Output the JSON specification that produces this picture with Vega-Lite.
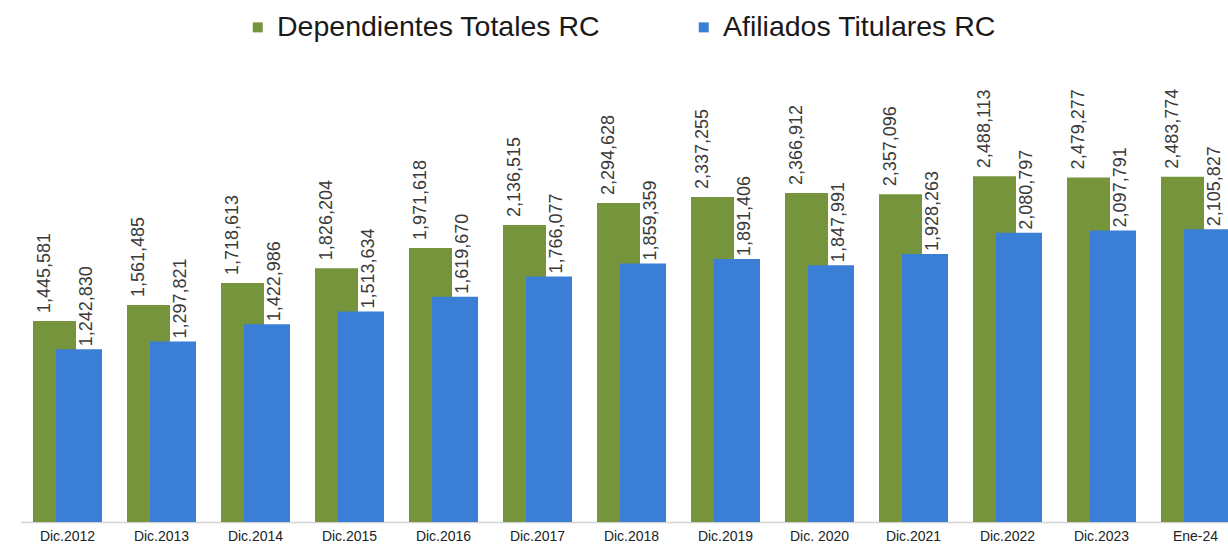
{
  "$schema": "https://vega.github.io/schema/vega-lite/v6.json",
  "autosize": "none",
  "width": 1222,
  "height": 417,
  "padding": {"left": 20.5, "top": 105, "right": 0, "bottom": 27},
  "background": "white",
  "config": {"view": {"stroke": null}, "font": "Liberation Sans"},
  "data": {
    "values": [
      {"periodo": "Dic.2012", "serie": "Dependientes  Totales RC", "valor": 1445581},
      {"periodo": "Dic.2013", "serie": "Dependientes  Totales RC", "valor": 1561485},
      {"periodo": "Dic.2014", "serie": "Dependientes  Totales RC", "valor": 1718613},
      {"periodo": "Dic.2015", "serie": "Dependientes  Totales RC", "valor": 1826204},
      {"periodo": "Dic.2016", "serie": "Dependientes  Totales RC", "valor": 1971618},
      {"periodo": "Dic.2017", "serie": "Dependientes  Totales RC", "valor": 2136515},
      {"periodo": "Dic.2018", "serie": "Dependientes  Totales RC", "valor": 2294628},
      {"periodo": "Dic.2019", "serie": "Dependientes  Totales RC", "valor": 2337255},
      {"periodo": "Dic. 2020", "serie": "Dependientes  Totales RC", "valor": 2366912},
      {"periodo": "Dic.2021", "serie": "Dependientes  Totales RC", "valor": 2357096},
      {"periodo": "Dic.2022", "serie": "Dependientes  Totales RC", "valor": 2488113},
      {"periodo": "Dic.2023", "serie": "Dependientes  Totales RC", "valor": 2479277},
      {"periodo": "Ene-24", "serie": "Dependientes  Totales RC", "valor": 2483774},
      {"periodo": "Dic.2012", "serie": "Afiliados Titulares RC", "valor": 1242830},
      {"periodo": "Dic.2013", "serie": "Afiliados Titulares RC", "valor": 1297821},
      {"periodo": "Dic.2014", "serie": "Afiliados Titulares RC", "valor": 1422986},
      {"periodo": "Dic.2015", "serie": "Afiliados Titulares RC", "valor": 1513634},
      {"periodo": "Dic.2016", "serie": "Afiliados Titulares RC", "valor": 1619670},
      {"periodo": "Dic.2017", "serie": "Afiliados Titulares RC", "valor": 1766077},
      {"periodo": "Dic.2018", "serie": "Afiliados Titulares RC", "valor": 1859359},
      {"periodo": "Dic.2019", "serie": "Afiliados Titulares RC", "valor": 1891406},
      {"periodo": "Dic. 2020", "serie": "Afiliados Titulares RC", "valor": 1847991},
      {"periodo": "Dic.2021", "serie": "Afiliados Titulares RC", "valor": 1928263},
      {"periodo": "Dic.2022", "serie": "Afiliados Titulares RC", "valor": 2080797},
      {"periodo": "Dic.2023", "serie": "Afiliados Titulares RC", "valor": 2097791},
      {"periodo": "Ene-24", "serie": "Afiliados Titulares RC", "valor": 2105827}
    ]
  },
  "encoding": {
    "x": {
      "field": "periodo",
      "type": "nominal",
      "sort": null,
      "scale": {"paddingInner": 0, "paddingOuter": 0},
      "axis": {
        "title": null,
        "labelAngle": 0,
        "labelFontSize": 14,
        "labelColor": "#222222",
        "labelPadding": 7,
        "ticks": false,
        "domainColor": "#d4d4d4",
        "domainWidth": 1.5,
        "grid": false
      }
    },
    "y": {
      "field": "valor",
      "type": "quantitative",
      "scale": {"domain": [0, 3000000], "nice": false},
      "axis": null
    }
  },
  "layer": [
    {
      "transform": [{"filter": "datum.serie === 'Dependientes  Totales RC'"}],
      "mark": {"type": "bar", "width": 43, "xOffset": -13},
      "encoding": {
        "color": {
          "field": "serie",
          "type": "nominal",
          "scale": {
            "domain": ["Dependientes  Totales RC", "Afiliados Titulares RC"],
            "range": ["#76943b", "#3b7ed6"]
          },
          "legend": {
            "title": null,
            "orient": "none",
            "direction": "horizontal",
            "legendX": 223,
            "legendY": -92,
            "padding": 0,
            "symbolType": "square",
            "symbolSize": 100,
            "symbolStrokeWidth": 0,
            "labelFontSize": 28.5,
            "labelLimit": 0,
            "labelColor": "#1a1a1a",
            "labelOffset": 5,
            "columnPadding": 81
          }
        }
      }
    },
    {
      "transform": [{"filter": "datum.serie === 'Afiliados Titulares RC'"}],
      "mark": {"type": "bar", "width": 46, "xOffset": 11.5},
      "encoding": {
        "color": {"field": "serie", "type": "nominal"}
      }
    },
    {
      "transform": [{"filter": "datum.serie === 'Dependientes  Totales RC'"}],
      "mark": {"type": "text", "angle": 270, "align": "left", "baseline": "middle", "dx": 8, "xOffset": -22.5, "fontSize": 18, "color": "#3a3a3a"},
      "encoding": {
        "text": {"field": "valor", "type": "quantitative", "format": ",d"}
      }
    },
    {
      "transform": [{"filter": "datum.serie === 'Afiliados Titulares RC'"}],
      "mark": {"type": "text", "angle": 270, "align": "left", "baseline": "middle", "dx": 3, "xOffset": 19.5, "fontSize": 18, "color": "#3a3a3a"},
      "encoding": {
        "text": {"field": "valor", "type": "quantitative", "format": ",d"}
      }
    }
  ]
}
